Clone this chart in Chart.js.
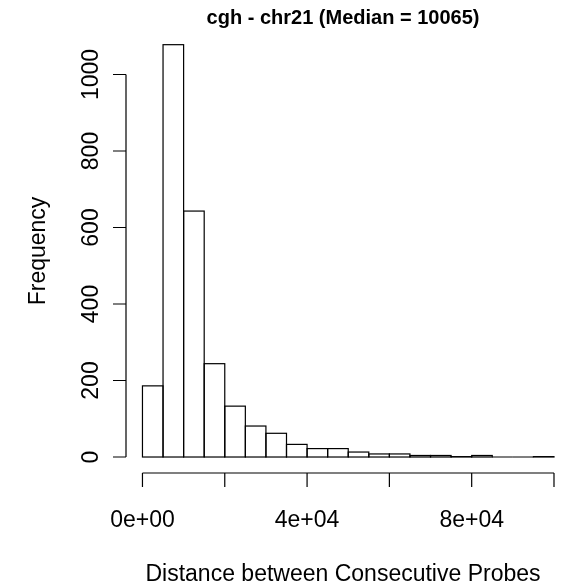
<!DOCTYPE html>
<html>
<head>
<meta charset="utf-8">
<script src="https://cdn.jsdelivr.net/npm/chart.js@4/dist/chart.umd.min.js"></script>
<style>
  html, body { margin: 0; padding: 0; background: #fff; }
  #wrap { width: 563px; height: 584px; }
</style>
</head>
<body>
<div id="wrap"><canvas id="hist" width="563" height="584"></canvas></div>
<script>
/* ── cgh chr21 probe spacing histogram ─────────────────────────── */

// ── Data ─────────────────────────────────────────────────────────
const binWidth   = 5000;
const binStarts  = [0, 5000, 10000, 15000, 20000, 25000, 30000, 35000, 40000, 45000,
                    50000, 55000, 60000, 65000, 70000, 75000, 80000, 85000, 90000, 95000];
const counts     = [186, 1078, 643, 244, 133, 81, 62, 33, 22, 22,
                    13, 8, 8, 4, 4, 1, 4, 0, 0, 1];
const yTicks     = [0, 200, 400, 600, 800, 1000];
const yTickText  = ['0', '200', '400', '600', '800', '1000'];
const xTicks     = [0, 20000, 40000, 60000, 80000, 100000];
const xTickText  = ['0e+00', '', '4e+04', '', '8e+04', ''];

const titleText = 'cgh - chr21 (Median = 10065)';
const xTitle    = 'Distance between Consecutive Probes';
const yTitle    = 'Frequency';

const FONT = "'Liberation Sans', Arial, sans-serif";
const INK  = '#000';

// ── R-style axes, outlines and labels ────────────────────────────
const rStyle = {
  id: 'rStyle',
  afterDatasetsDraw(chart) {
    const { ctx, scales: { x, y }, chartArea } = chart;
    ctx.save();
    ctx.strokeStyle = INK;
    ctx.fillStyle = INK;
    ctx.lineWidth = 1.2;

    // bar outlines (single line on shared edges, like rect())
    chart.getDatasetMeta(0).data.forEach(bar => {
      const p = bar.getProps(['x', 'y', 'base', 'width'], true);
      ctx.strokeRect(p.x - p.width / 2, Math.min(p.y, p.base), p.width, Math.abs(p.base - p.y));
    });

    // y axis
    const axX = chartArea.left;
    ctx.beginPath();
    ctx.moveTo(axX, y.getPixelForValue(yTicks[0]));
    ctx.lineTo(axX, y.getPixelForValue(yTicks[yTicks.length - 1]));
    yTicks.forEach(v => {
      const py = y.getPixelForValue(v);
      ctx.moveTo(axX, py);
      ctx.lineTo(axX - 13, py);
    });
    ctx.stroke();

    // x axis
    const axY = chartArea.bottom;
    ctx.beginPath();
    ctx.moveTo(x.getPixelForValue(xTicks[0]), axY);
    ctx.lineTo(x.getPixelForValue(xTicks[xTicks.length - 1]), axY);
    xTicks.forEach(v => {
      const px = x.getPixelForValue(v);
      ctx.moveTo(px, axY);
      ctx.lineTo(px, axY + 14);
    });
    ctx.stroke();

    // tick labels
    ctx.font = `23px ${FONT}`;
    ctx.textAlign = 'center';
    ctx.textBaseline = 'alphabetic';
    xTicks.forEach((v, i) => {
      if (xTickText[i]) ctx.fillText(xTickText[i], x.getPixelForValue(v), 527);
    });
    yTicks.forEach((v, i) => {
      ctx.save();
      ctx.translate(98, y.getPixelForValue(v));
      ctx.rotate(-Math.PI / 2);
      ctx.fillText(yTickText[i], 0, 0);
      ctx.restore();
    });

    // axis titles
    const midX = (chartArea.left + chartArea.right) / 2;
    const midY = (chartArea.top + chartArea.bottom) / 2;
    ctx.fillText(xTitle, midX, 581);
    ctx.save();
    ctx.translate(45, midY);
    ctx.rotate(-Math.PI / 2);
    ctx.fillText(yTitle, 0, 0);
    ctx.restore();

    // main title
    ctx.font = `bold 20px ${FONT}`;
    ctx.fillText(titleText, midX, 24);
    ctx.restore();
  },
};

// ── Chart ────────────────────────────────────────────────────────
new Chart(document.getElementById('hist'), {
  type: 'bar',
  data: {
    datasets: [{
      data: binStarts.map((s, i) => ({ x: s + binWidth / 2, y: counts[i] })),
      backgroundColor: '#fff',
      borderWidth: 0,
      barPercentage: 1,
      categoryPercentage: 1,
      grouped: false,
    }],
  },
  options: {
    responsive: false,
    animation: false,
    layout: { padding: { left: 126, top: 29, right: 3, bottom: 111 } },
    plugins: { legend: { display: false }, title: { display: false }, tooltip: { enabled: false } },
    scales: {
      x: { type: 'linear', min: -4000, max: 101460, offset: false, display: false },
      y: { min: -41.8, max: 1119, display: false },
    },
  },
  plugins: [rStyle],
});
</script>
</body>
</html>
